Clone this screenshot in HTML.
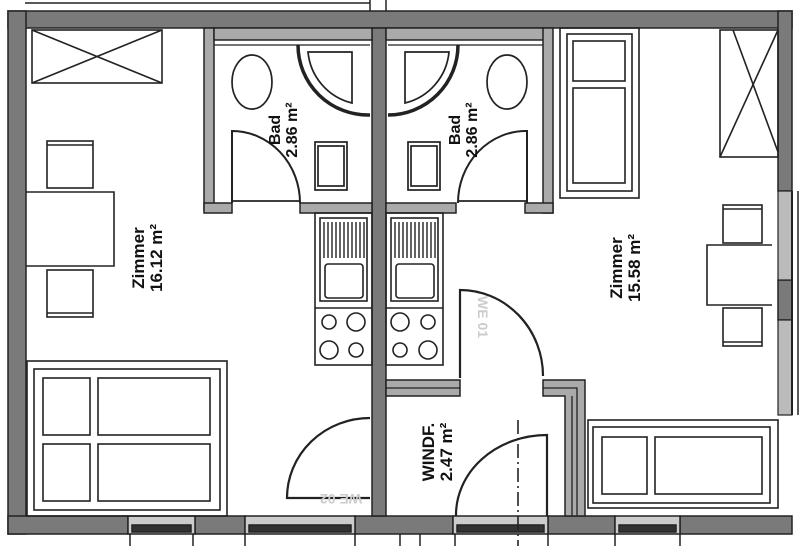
<!DOCTYPE html>
<html><head><meta charset="utf-8"><style>
html,body{margin:0;padding:0;background:#fff;}
svg{display:block;}
text{font-family:"Liberation Sans",sans-serif;font-weight:bold;fill:#111;}
</style></head><body>
<svg width="800" height="546" viewBox="0 0 800 546" xmlns="http://www.w3.org/2000/svg">
<rect width="800" height="546" fill="#fff"/>
<g stroke="#222" stroke-width="1.5" fill="none">
<line x1="25" y1="3" x2="370" y2="3"/>
<line x1="370" y1="0" x2="370" y2="12"/>
<line x1="386" y1="0" x2="386" y2="12"/>
</g>
<g fill="#7a7a7a" stroke="#222" stroke-width="1.5">
<rect x="8" y="11" width="784" height="17"/>
<rect x="8" y="11" width="18" height="523"/>
<rect x="778" y="11" width="14" height="180"/>
<rect x="8" y="516" width="120" height="18"/>
<rect x="195" y="516" width="50" height="18"/>
<rect x="355" y="516" width="98" height="18"/>
<rect x="548" y="516" width="67" height="18"/>
<rect x="680" y="516" width="112" height="18"/>
<rect x="372" y="28" width="14" height="488"/>
<rect x="778" y="280" width="14" height="40"/>
</g>
<g fill="#bbb" stroke="#222" stroke-width="1.2">
<rect x="778" y="191" width="14" height="89"/>
<rect x="778" y="320" width="14" height="95"/>
</g>
<line x1="792" y1="191" x2="792" y2="415" stroke="#222" stroke-width="2"/>
<line x1="798" y1="191" x2="798" y2="415" stroke="#222" stroke-width="1.5"/>
<g stroke="#222" stroke-width="1.5">
<rect x="128" y="516" width="67" height="18" fill="#ccc"/>
<rect x="245" y="516" width="110" height="18" fill="#ccc"/>
<rect x="453" y="516" width="95" height="18" fill="#ccc"/>
<rect x="615" y="516" width="65" height="18" fill="#ccc"/>
<rect x="132" y="525" width="59" height="7" fill="#333"/>
<rect x="249" y="525" width="102" height="7" fill="#333"/>
<rect x="457" y="525" width="87" height="7" fill="#333"/>
<rect x="619" y="525" width="57" height="7" fill="#333"/>
<line x1="130" y1="534" x2="130" y2="546"/><line x1="193" y1="534" x2="193" y2="546"/>
<line x1="245" y1="534" x2="245" y2="546"/><line x1="355" y1="534" x2="355" y2="546"/>
<line x1="455" y1="534" x2="455" y2="546"/><line x1="548" y1="534" x2="548" y2="546"/>
<line x1="615" y1="534" x2="615" y2="546"/><line x1="680" y1="534" x2="680" y2="546"/>
<line x1="400" y1="534" x2="400" y2="546"/><line x1="420" y1="534" x2="420" y2="546"/>
</g>
<g fill="#aaa" stroke="#222" stroke-width="1.5">
<rect x="204" y="28" width="10" height="182"/>
<rect x="204" y="203" width="28" height="10"/>
<rect x="300" y="203" width="72" height="10"/>
<rect x="214" y="28" width="158" height="12"/>
<rect x="386" y="28" width="158" height="12"/>
<rect x="543" y="28" width="10" height="185"/>
<rect x="386" y="203" width="70" height="10"/>
<rect x="525" y="203" width="28" height="10"/>
<rect x="386" y="380" width="74" height="16"/>
<path d="M543 380 H585 V516 H565 V396 H543 Z"/>
</g>
<g fill="none" stroke="#222" stroke-width="1.3">
<line x1="214" y1="45" x2="370" y2="45"/><line x1="388" y1="45" x2="543" y2="45"/>
<line x1="386" y1="388" x2="460" y2="388"/>
<path d="M543 388 H577 V516"/>
<line x1="572" y1="396" x2="572" y2="516"/>
</g>
<g fill="none" stroke="#222" stroke-width="1.7">
<path d="M298 45 A70 70 0 0 0 370 115" stroke-width="3.5"/>
<path d="M308 52 H352 V103 A58 58 0 0 1 308 52 Z"/>
<ellipse cx="252" cy="82" rx="20" ry="27"/>
<rect x="315" y="142" width="32" height="48"/>
<rect x="318" y="146" width="26" height="40"/>
<path d="M232 203 V131 A68 72 0 0 1 300 203" stroke-width="2"/>
<line x1="232" y1="201" x2="300" y2="201"/>
<path d="M388 115 A70 70 0 0 0 458 45" stroke-width="3.5"/>
<path d="M449 52 H405 V103 A58 58 0 0 0 449 52 Z"/>
<ellipse cx="507" cy="82" rx="20" ry="27"/>
<rect x="408" y="142" width="32" height="48"/>
<rect x="411" y="146" width="26" height="40"/>
<path d="M527 203 V131 A68 72 0 0 0 458 203" stroke-width="2"/>
<line x1="458" y1="201" x2="527" y2="201"/>
</g>
<text transform="translate(280,130) rotate(-90)" font-size="16" text-anchor="middle">Bad</text>
<text transform="translate(297,130) rotate(-90)" font-size="16" text-anchor="middle">2.86 m²</text>
<text transform="translate(460,130) rotate(-90)" font-size="16" text-anchor="middle">Bad</text>
<text transform="translate(477,130) rotate(-90)" font-size="16" text-anchor="middle">2.86 m²</text>
<g fill="none" stroke="#222" stroke-width="1.6">
<rect x="315" y="213" width="57" height="152"/>
<rect x="320" y="218" width="47" height="83"/>
<rect x="325" y="264" width="38" height="34" rx="3"/>
<line x1="315" y1="308" x2="372" y2="308"/>
<circle cx="329" cy="322" r="7"/><circle cx="356" cy="322" r="9"/>
<circle cx="329" cy="350" r="9"/><circle cx="356" cy="350" r="7"/>
<rect x="386" y="213" width="57" height="152"/>
<rect x="391" y="218" width="47" height="83"/>
<rect x="396" y="264" width="38" height="34" rx="3"/>
<line x1="386" y1="308" x2="443" y2="308"/>
<circle cx="400" cy="322" r="9"/><circle cx="428" cy="322" r="7"/>
<circle cx="400" cy="350" r="7"/><circle cx="428" cy="350" r="9"/>
</g>
<g stroke="#222" stroke-width="1.4">
<path d="M324 222V258M328 222V258M332 222V258M336 222V258M340 222V258M344 222V258M348 222V258M352 222V258M356 222V258M360 222V258M364 222V258"/>
<path d="M395 222V258M399 222V258M403 222V258M407 222V258M411 222V258M415 222V258M419 222V258M423 222V258M427 222V258M431 222V258M435 222V258"/>
</g>
<g fill="none" stroke="#222" stroke-width="1.6">
<rect x="32" y="30" width="130" height="53"/>
<line x1="32" y1="30" x2="162" y2="83"/><line x1="162" y1="30" x2="32" y2="83"/>
<rect x="47" y="141" width="46" height="47"/><line x1="47" y1="145" x2="93" y2="145"/>
<path d="M26 192 H114 V266 H26"/>
<rect x="47" y="270" width="46" height="47"/><line x1="47" y1="313" x2="93" y2="313"/>
<rect x="27" y="361" width="200" height="155"/>
<rect x="34" y="369" width="186" height="141"/>
<rect x="43" y="378" width="47" height="57"/><rect x="98" y="378" width="112" height="57"/>
<rect x="43" y="444" width="47" height="57"/><rect x="98" y="444" width="112" height="57"/>
<path d="M370 418 A83 80 0 0 0 287 498 H370" stroke-width="2.2"/>
</g>
<text transform="translate(144,258) rotate(-90)" font-size="17" text-anchor="middle">Zimmer</text>
<text transform="translate(162,258) rotate(-90)" font-size="17" text-anchor="middle">16.12 m²</text>
<text transform="translate(362,494) scale(-1,-1)" font-size="14" style="fill:#ccc">WE 02</text>
<g fill="none" stroke="#222" stroke-width="1.6">
<rect x="560" y="28" width="79" height="170"/>
<rect x="567" y="34" width="65" height="157"/>
<rect x="573" y="41" width="52" height="40"/><rect x="573" y="88" width="52" height="95"/>
<rect x="720" y="30" width="58" height="127"/>
<line x1="720" y1="157" x2="778" y2="30"/><line x1="733" y1="30" x2="778" y2="152"/>
<rect x="723" y="205" width="39" height="38"/><line x1="723" y1="209" x2="762" y2="209"/>
<path d="M772 245 H707 V305 H772"/>
<rect x="723" y="308" width="39" height="38"/><line x1="723" y1="342" x2="762" y2="342"/>
<rect x="588" y="420" width="190" height="88"/>
<rect x="593" y="427" width="177" height="76"/>
<rect x="602" y="437" width="45" height="57"/><rect x="655" y="437" width="107" height="57"/>
<path d="M460 378 V290 A83 86 0 0 1 543 376" stroke-width="2.2"/>
<path d="M547 516 V435 A91 80 0 0 0 456 516" stroke-width="2.2"/>
<line x1="518" y1="420" x2="518" y2="546" stroke-dasharray="14,4,2,4"/>
</g>
<text transform="translate(622,268) rotate(-90)" font-size="17" text-anchor="middle">Zimmer</text>
<text transform="translate(640,268) rotate(-90)" font-size="17" text-anchor="middle">15.58 m²</text>
<text transform="translate(478,296) rotate(90)" font-size="14" style="fill:#ccc">WE 01</text>
<text transform="translate(434,452) rotate(-90)" font-size="17" text-anchor="middle">WINDF.</text>
<text transform="translate(452,452) rotate(-90)" font-size="17" text-anchor="middle">2.47 m²</text>
</svg>
</body></html>
